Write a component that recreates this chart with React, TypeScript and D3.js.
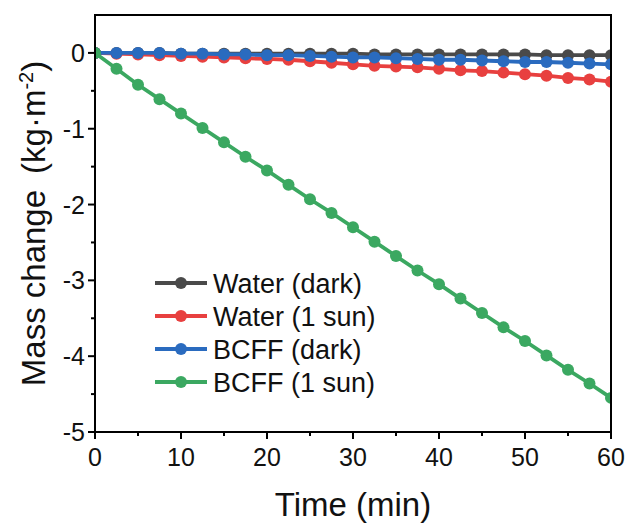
import React from "react";
import * as d3 from "d3";

const times = [0, 2.5, 5, 7.5, 10, 12.5, 15, 17.5, 20, 22.5, 25, 27.5, 30, 32.5, 35, 37.5, 40, 42.5, 45, 47.5, 50, 52.5, 55, 57.5, 60];
const waterDark = [0, 0, 0, 0, -0.01, -0.01, -0.01, -0.01, -0.01, -0.01, -0.01, -0.01, -0.01, -0.02, -0.02, -0.02, -0.02, -0.02, -0.02, -0.02, -0.02, -0.03, -0.03, -0.03, -0.03];
const waterSun = [0, -0.01, -0.02, -0.03, -0.04, -0.05, -0.06, -0.07, -0.08, -0.09, -0.11, -0.13, -0.15, -0.17, -0.18, -0.19, -0.21, -0.23, -0.24, -0.26, -0.28, -0.30, -0.33, -0.35, -0.38];
const bcffDark = [0, 0, 0, 0, -0.01, -0.01, -0.02, -0.02, -0.03, -0.03, -0.04, -0.05, -0.06, -0.06, -0.07, -0.08, -0.09, -0.09, -0.10, -0.11, -0.12, -0.12, -0.13, -0.14, -0.15];
const bcffSun = [0, -0.21, -0.42, -0.61, -0.80, -0.99, -1.18, -1.37, -1.55, -1.74, -1.93, -2.11, -2.30, -2.49, -2.68, -2.87, -3.05, -3.24, -3.43, -3.62, -3.80, -3.99, -4.18, -4.36, -4.55];

const seriesNames = ["Water (dark)", "Water (1 sun)", "BCFF (dark)", "BCFF (1 sun)"];
const seriesColors = ["#4a4a4a", "#e8403f", "#2a6bbf", "#3ba861"];
const seriesValues = [waterDark, waterSun, bcffDark, bcffSun];

const xTicks = [0, 10, 20, 30, 40, 50, 60];
const xMinor = [5, 15, 25, 35, 45, 55];
const yTicks = [0, -1, -2, -3, -4, -5];
const yMinor = [-0.5, -1.5, -2.5, -3.5, -4.5];

const W = 630, H = 525;
const L = 95, R = 611, T = 15, B = 432;
const FONT = "Arial, 'Liberation Sans', Helvetica, sans-serif";

export default function App() {
  const x = d3.scaleLinear().domain([0, 60]).range([L, R]);
  const y = d3.scaleLinear().domain([-5, 0.5]).range([B, T]);
  const line = d3.line<number>().x((_, i) => x(times[i])).y((v) => y(v));

  return (
    <svg width={W} height={H} style={{ position: "absolute", left: 0, top: 0, background: "#fff" }} fontFamily={FONT}>
      <defs>
        <clipPath id="plot">
          <rect x={L} y={T} width={R - L} height={B - T} />
        </clipPath>
      </defs>
      <rect x={0} y={0} width={W} height={H} fill="#fff" />
      <g clipPath="url(#plot)">
        {seriesValues.map((vals, s) => (
          <g key={s}>
            <path d={line(vals) || ""} fill="none" stroke={seriesColors[s]} strokeWidth={3.8} />
            {vals.map((v, i) => (
              <circle key={i} cx={x(times[i])} cy={y(v)} r={6} fill={seriesColors[s]} />
            ))}
          </g>
        ))}
      </g>
      {/* frame */}
      <rect x={L} y={T} width={R - L} height={B - T} fill="none" stroke="#000" strokeWidth={2} />
      {/* x ticks */}
      {xTicks.map((t) => (
        <g key={"x" + t}>
          <line x1={x(t)} x2={x(t)} y1={B} y2={B + 7} stroke="#000" strokeWidth={2} />
          <text x={x(t)} y={B + 34} fontSize={25} textAnchor="middle" fill="#111">{t}</text>
        </g>
      ))}
      {xMinor.map((t) => (
        <line key={"xm" + t} x1={x(t)} x2={x(t)} y1={B} y2={B + 4} stroke="#000" strokeWidth={2} />
      ))}
      {/* y ticks */}
      {yTicks.map((t) => (
        <g key={"y" + t}>
          <line x1={L - 7} x2={L} y1={y(t)} y2={y(t)} stroke="#000" strokeWidth={2} />
          <text x={L - 10} y={y(t)} dy="0.36em" fontSize={25} textAnchor="end" fill="#111">{t === 0 ? "0" : "-" + Math.abs(t)}</text>
        </g>
      ))}
      {yMinor.map((t) => (
        <line key={"ym" + t} x1={L - 4} x2={L} y1={y(t)} y2={y(t)} stroke="#000" strokeWidth={2} />
      ))}
      {/* axis titles */}
      <text x={(L + R) / 2} y={516} fontSize={33} textAnchor="middle" fill="#111">Time (min)</text>
      <text transform={`translate(45, ${(T + B) / 2}) rotate(-90)`} fontSize={33} textAnchor="middle" fill="#111">
        Mass change<tspan dx={16}>(kg·m</tspan><tspan dy={-12} fontSize={20}>-2</tspan><tspan dy={12}>)</tspan>
      </text>
      {/* legend */}
      {seriesNames.map((name, i) => {
        const ly = 283 + i * 33;
        return (
          <g key={name}>
            <line x1={155} x2={207} y1={ly} y2={ly} stroke={seriesColors[i]} strokeWidth={3.8} />
            <circle cx={181} cy={ly} r={6} fill={seriesColors[i]} />
            <text x={213} y={ly} dy="0.36em" fontSize={27} fill="#111">{name}</text>
          </g>
        );
      })}
    </svg>
  );
}
